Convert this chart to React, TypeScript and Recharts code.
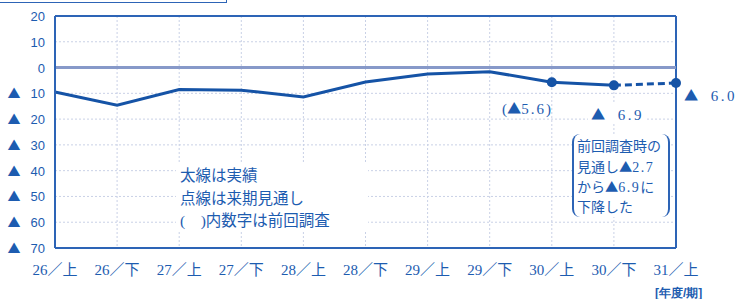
import React from 'react';
import { LineChart, Line, XAxis, YAxis, CartesianGrid, ReferenceLine } from 'recharts';

const categories = ['26／上', '26／下', '27／上', '27／下', '28／上', '28／下', '29／上', '29／下', '30／上', '30／下', '31／上'];
const actualValues: (number | null)[] = [-9.5, -14.6, -8.5, -8.8, -11.4, -5.6, -2.5, -1.6, -5.7, -6.9, null];
const forecastValues: (number | null)[] = [null, null, null, null, null, null, null, null, null, -6.9, -6.0];
const actualDotCategories = ['30／上', '30／下'];
const forecastDotCategories = ['31／上'];
const yTicks = [20, 10, 0, -10, -20, -30, -40, -50, -60, -70];
const legendLines = ['太線は実績', '点線は来期見通し', '(\u3000)内数字は前回調査'];
const noteLines = ['前回調査時の', '見通し▲2.7', 'から▲6.9に', '下降した'];
const prevLabel = '(▲5.6)';
const label309 = '▲  6.9';
const label311 = '▲  6.0';
const unitLabel = '[年度/期]';

const data = categories.map((c, i) => ({ cat: c, actual: actualValues[i], forecast: forecastValues[i] }));

const BLUE = '#1553a6';
const TEXT = '#1d5cb0';
const AXIS = '#2d64b6';
const GRID = '#c9d1e6';
const SERIF = "'Liberation Serif', 'DejaVu Serif', 'Noto Sans CJK JP', serif";
const CJK = "'Noto Sans CJK JP', sans-serif";
const SANS = "'Liberation Sans Narrow', 'Liberation Sans', Arial, sans-serif";

// render text where ▲ uses a CJK font (full-width triangle) and digits get spacing like Mincho
const Rich = ({ text, digitSpacing = 0 }: { text: string; digitSpacing?: number }) => {
  const parts = text.split(/(▲)/);
  return (
    <>
      {parts.map((p, i) =>
        p === '▲' ? (
          <span key={i} style={{ fontFamily: CJK, fontSize: '0.95em' }}>▲</span>
        ) : (
          <span key={i} style={{ letterSpacing: /[0-9]/.test(p) ? digitSpacing : 0 }}>{p}</span>
        )
      )}
    </>
  );
};

const YTick = (props: any) => {
  const { x, y, payload } = props;
  const v = payload.value as number;
  return (
    <g>
      {v < 0 && (
        <text x={x - 33} y={y} dy={5} textAnchor="middle" fill={TEXT} fontSize={13} fontFamily={CJK}>▲</text>
      )}
      <text x={x - 2} y={y} dy={5} textAnchor="end" fill={TEXT} fontSize={13} fontFamily={SANS}>
        {Math.abs(v)}
      </text>
    </g>
  );
};

const XTick = (props: any) => {
  const { x, payload } = props;
  return (
    <text x={x} y={275} textAnchor="middle" fill={TEXT} fontSize={15} fontFamily={SERIF}>
      {payload.value}
    </text>
  );
};

const makeDot = (cats: string[]) => (props: any) => {
  const { cx, cy, payload, index } = props;
  if (cx == null || cy == null || !cats.includes(payload.cat)) return <g key={`d${index}`} />;
  return <circle key={`d${index}`} cx={cx} cy={cy} r={5} fill={BLUE} stroke="none" />;
};

export default function App() {
  return (
    <div style={{ position: 'absolute', left: 0, top: 0, width: 744, height: 299, background: '#fff' }}>
      <div style={{ position: 'absolute', left: -2, top: -10, width: 227, height: 11, border: `1px solid ${AXIS}` }} />
      <LineChart width={744} height={299} data={data} margin={{ top: 16, right: 68, bottom: 0, left: 0 }}>
        <CartesianGrid stroke={GRID} strokeDasharray="2 2" />
        <XAxis dataKey="cat" tick={<XTick />} tickLine={false} axisLine={{ stroke: AXIS, strokeWidth: 2 }} height={51} interval={0} />
        <YAxis domain={[-70, 20]} ticks={yTicks} tick={<YTick />} tickLine={false} axisLine={{ stroke: AXIS, strokeWidth: 2 }} width={55} interval={0} />
        <ReferenceLine y={20} stroke={AXIS} strokeWidth={2} />
        <ReferenceLine x={categories[categories.length - 1]} stroke={AXIS} strokeWidth={2} />
        <ReferenceLine y={0} stroke="#8799c9" strokeWidth={3} />
        <Line dataKey="actual" stroke={BLUE} strokeWidth={3} dot={makeDot(actualDotCategories)} activeDot={false} isAnimationActive={false} connectNulls={false} />
        <Line dataKey="forecast" stroke={BLUE} strokeWidth={3} strokeDasharray="7 4" dot={makeDot(forecastDotCategories)} activeDot={false} isAnimationActive={false} />
      </LineChart>
      <div style={{ position: 'absolute', left: 176, top: 164, width: 192, height: 66, background: '#fff', fontFamily: SERIF, fontSize: 15.5, color: TEXT, lineHeight: '22.5px', paddingLeft: 4, boxSizing: 'border-box', paddingTop: 1 }}>
        {legendLines.map((l) => (<div key={l} style={{ whiteSpace: 'pre' }}>{l}</div>))}
      </div>
      <div style={{ position: 'absolute', left: 572, top: 134, width: 98, height: 83, background: '#fff', borderLeft: `2px solid ${AXIS}`, borderRight: `2px solid ${AXIS}`, borderRadius: 8, boxSizing: 'border-box', paddingLeft: 3, paddingTop: 3, fontFamily: SERIF, fontSize: 14, color: TEXT, lineHeight: '19.5px', whiteSpace: 'pre' }}>
        {noteLines.map((l) => (<div key={l}><Rich text={l} digitSpacing={1.5} /></div>))}
      </div>
      <div style={{ position: 'absolute', left: 502, top: 97, fontFamily: SERIF, fontSize: 15, color: TEXT, whiteSpace: 'pre' }}><Rich text={prevLabel} digitSpacing={2} /></div>
      <div style={{ position: 'absolute', left: 588, top: 103, width: 56, background: '#fff', fontFamily: SERIF, fontSize: 15, color: TEXT, whiteSpace: 'pre', paddingLeft: 3 }}><Rich text={label309} digitSpacing={2.5} /></div>
      <div style={{ position: 'absolute', left: 684, top: 84, fontFamily: SERIF, fontSize: 15, color: TEXT, whiteSpace: 'pre' }}><Rich text={label311} digitSpacing={2.5} /></div>
      <div style={{ position: 'absolute', left: 655, top: 285, fontFamily: SANS, fontSize: 12, fontWeight: 'bold', color: TEXT, whiteSpace: 'pre' }}>{unitLabel}</div>
    </div>
  );
}
